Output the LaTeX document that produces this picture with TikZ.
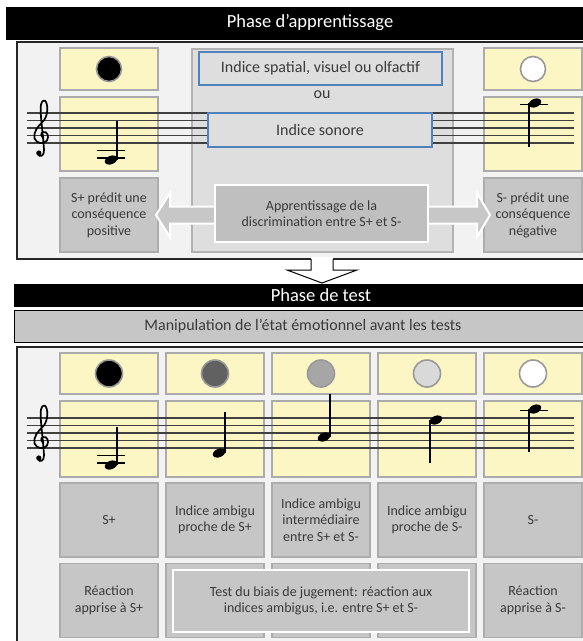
\documentclass[tikz,border=0pt]{standalone}
\usepackage{fontspec}
\setmainfont{Carlito}
\usetikzlibrary{positioning,calc,shapes.geometric}
\definecolor{ink}{RGB}{58,58,58}
\definecolor{pale}{RGB}{242,242,242}
\definecolor{cream}{RGB}{251,246,196}
\definecolor{cell}{RGB}{198,198,198}
\definecolor{cellrim}{RGB}{172,172,172}
\definecolor{mid}{RGB}{222,222,222}
\definecolor{cue}{RGB}{79,129,189}
\newcommand{\fs}{\fontsize{14}{16.5}\selectfont}
\newcommand{\fb}{\fontsize{16}{19}\selectfont}
\newcommand{\ft}{\fontsize{18.5}{22}\selectfont}
\newcommand{\qnote}[4]{% head x, head y, stem x, stem end y
  \fill[rotate around={22:(#1,#2)}] (#1,#2) ellipse [x radius=6.5pt,y radius=4.2pt];
  \draw[line width=1.8pt] (#3,#2) -- (#3,#4);}
\newcommand{\gclef}[2]{% x centre, top staff line
  \begin{scope}[shift={(#1,#2)}]
    \draw[line width=1.7pt,line cap=round]
      (1.5,24) .. controls (-1,24.5) and (-1.8,20) .. (1,19)
      .. controls (5,18) and (7.5,23) .. (5,27.5)
      .. controls (2.5,31.5) and (-5.5,31) .. (-7.5,25.5)
      .. controls (-9,19.5) and (-4,13) .. (0.5,9)
      .. controls (5.5,4.5) and (6.5,-6) .. (4,-11)
      .. controls (2.8,-13.5) and (0,-13) .. (-1,-8.5)
      .. controls (-2.5,-2) and (1,20) .. (2,37)
      .. controls (2.4,43) and (-2,44.5) .. (-4,41.5);
    \fill (-3.2,40) circle [radius=2.6pt];
  \end{scope}}
\tikzset{
  panel/.style={draw=black!85,line width=1.6pt,fill=pale},
  ybox/.style={draw=black!33,line width=1.5pt,fill=cream,minimum width=98pt,inner sep=0pt},
  gbox/.style={draw=cellrim,line width=1.5pt,fill=cell,minimum width=98pt,inner sep=2pt,
    align=center,text=ink,font=\fs},
  cuebox/.style={draw=cue,line width=2pt,fill=mid,inner sep=0pt,text=ink,font=\fb},
  dot/.style={circle,draw=black!40,line width=1.6pt,minimum size=25pt,inner sep=0pt},
  staff/.style={black!75,line width=1.2pt},
  lbl/.style={text=ink,font=\fs,align=center},
}

\begin{document}
\begin{tikzpicture}[x=1pt,y=-1pt]
  \clip (0,0) rectangle (583,641);
  \fill[white] (0,0) rectangle (583,641);

  % learning phase
  \fill[black] (6,7) rectangle (590,40);
  \node[text=white,font=\ft] (learn) at (310,23) {Phase d’apprentissage};
  \draw[panel] (17,42) rectangle (600,259);

  \node[ybox,minimum height=42pt] (toneL) at (109,69) {};
  \node[dot,fill=black] (dotL) at (toneL) {};
  \node[ybox,minimum height=74pt] (staveL) at (109,134) {};
  \node[gbox,minimum height=74pt] (predL) at (109,215) {S+ prédit une\\conséquence\\positive};

  \node[ybox,minimum height=42pt] (toneR) at (533,69) {};
  \node[dot,fill=white] (dotR) at (toneR) {};
  \node[ybox,minimum height=74pt] (staveR) at (533,134) {};
  \node[gbox,minimum height=74pt] (predR) at (533,215) {S- prédit une\\conséquence\\négative};

  \node[draw=black!30,line width=1.5pt,fill=mid,minimum width=261pt,minimum height=203pt]
    (cuebg) at (322.5,150.5) {};

  \fill[black!22,draw=white,line width=2pt]
    (156,215) -- (170,193) -- (170,206.5) -- (477,206.5) -- (477,193) -- (490,215)
    -- (477,237) -- (477,223.5) -- (170,223.5) -- (170,237) -- cycle;
  \node[lbl,fill=black!25,draw=white,line width=2.5pt,minimum width=213pt,minimum height=57pt]
    (discr) at (321.5,213.5) {Apprentissage de la\\discrimination entre S+ et S-};

  \foreach \k in {0,...,4}
    \draw[staff] (27,113+7.5*\k) -- (574,113+7.5*\k);
  \gclef{42}{113}
  \draw[line width=1.2pt] (97,150.5) -- (125,150.5) (97,158) -- (125,158);
  \qnote{111}{160}{117}{121}
  \draw[line width=1.2pt] (520,104.5) -- (548,104.5);
  \qnote{535}{103}{529}{147}

  \node[cuebox,minimum width=243pt,minimum height=33pt] (cueA) at (320.5,68.5) {Indice spatial, visuel ou olfactif};
  \node[lbl,font=\fb] (orw) at (322,95) {ou};
  \node[cuebox,minimum width=224pt,minimum height=34pt] (cueB) at (320,130) {Indice sonore};

  % arrow down to the test phase
  \fill[white] (311,257) -- (311,270) -- (287,270) -- (322,283) -- (357,270) -- (333,270) -- (333,257) -- cycle;
  \draw[black,line width=1pt] (311,259) -- (311,270) -- (287,270) -- (322,283) -- (357,270) -- (333,270) -- (333,259);

  % test phase
  \fill[black] (14,284) rectangle (590,307);
  \node[text=white,font=\ft] (testlbl) at (321,295.5) {Phase de test};
  \draw[fill=cell,draw=black,line width=1pt] (14,310) rectangle (590,342);
  \node[lbl,font=\fb] (mood) at (303,326) {Manipulation de l’état émotionnel avant les tests};
  \draw[panel] (17,347) rectangle (600,660);

  \foreach \i/\c in {1/black,2/black!62,3/black!35,4/black!15,5/white} {
    \node[ybox,minimum height=41pt] (tone\i) at (3+106*\i,373.5) {};
    \node[dot,fill=\c,minimum size=27pt] (dot\i) at (tone\i) {};
    \node[ybox,minimum height=76pt] (stave\i) at (3+106*\i,439) {};
    \node[gbox,minimum height=74pt] (resp\i) at (3+106*\i,600.5) {};
  }
  \foreach \i/\t in {1/S+,2/{Indice ambigu\\proche de S+},3/{Indice ambigu\\intermédiaire\\entre S+ et S-},
      4/{Indice ambigu\\proche de S-},5/S-}
    \node[gbox,minimum height=74pt] (cue\i) at (3+106*\i,520) {\t};
  \node[lbl] at (resp1) {Réaction\\apprise à S+};
  \node[lbl] at (resp5) {Réaction\\apprise à S-};
  \node[lbl,fill=cell,draw=white,line width=2.5pt,minimum width=296pt,minimum height=62pt]
    (bias) at (321,601) {Test du biais de jugement: réaction aux\\indices ambigus, i.e. entre S+ et S-};

  \foreach \k in {0,...,4}
    \draw[staff] (27,418+7.5*\k) -- (574,418+7.5*\k);
  \gclef{42}{418}
  \draw[line width=1.2pt] (97,455.5) -- (125,455.5) (97,463) -- (125,463);
  \qnote{111}{465}{117}{427}
  \qnote{219}{453}{225}{412}
  \qnote{324}{437}{330}{394}
  \qnote{436}{420}{430}{463}
  \draw[line width=1.2pt] (520,410.5) -- (548,410.5);
  \qnote{535}{409}{529}{452}
\end{tikzpicture}
\end{document}
